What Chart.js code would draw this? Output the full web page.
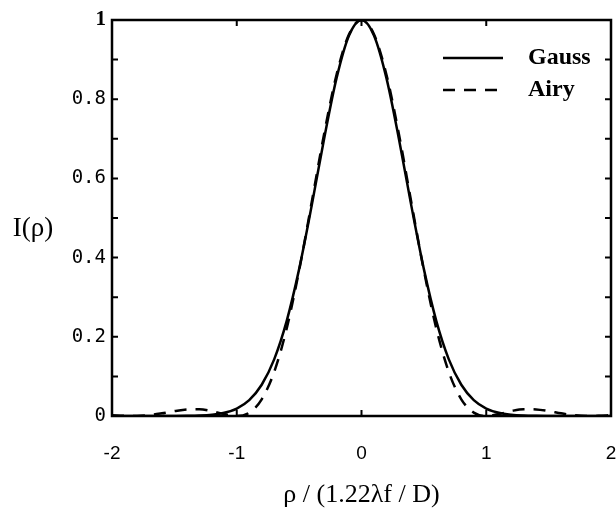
<!DOCTYPE html>
<html>
<head>
<meta charset="utf-8">
<script src="https://cdn.jsdelivr.net/npm/chart.js@4.4.1/dist/chart.umd.min.js"></script>
<style>
  html, body { margin: 0; padding: 0; background: #fff; }
  #wrap { width: 616px; height: 508px; position: relative; }
</style>
</head>
<body>
<div id="wrap"><canvas id="psfChart"></canvas></div>
<script>
// radial coordinate, in units of 1.22 lambda f / D
const rho = [-2.0, -1.9, -1.8, -1.7, -1.6, -1.5, -1.4, -1.3, -1.2, -1.1,
             -1.0, -0.9, -0.8, -0.7, -0.6, -0.5, -0.4, -0.3, -0.2, -0.1,
              0.0,
              0.1,  0.2,  0.3,  0.4,  0.5,  0.6,  0.7,  0.8,  0.9,  1.0,
              1.1,  1.2,  1.3,  1.4,  1.5,  1.6,  1.7,  1.8,  1.9,  2.0];

const gauss = [0, 0, 0, 0, 0, 0.0001, 0.0004, 0.0012, 0.0033, 0.0082,
               0.0189, 0.0402, 0.0789, 0.1431, 0.2397, 0.3709, 0.5300, 0.6997, 0.8532, 0.9611,
               1.0,
               0.9611, 0.8532, 0.6997, 0.5300, 0.3709, 0.2397, 0.1431, 0.0789, 0.0402, 0.0189,
               0.0082, 0.0033, 0.0012, 0.0004, 0.0001, 0, 0, 0, 0, 0];

const airy = [0.0020, 0.0004, 0.0001, 0.0021, 0.0067, 0.0123, 0.0166, 0.0171, 0.0125, 0.0048,
              0.0, 0.0085, 0.0421, 0.1111, 0.2207, 0.3675, 0.5384, 0.7118, 0.8619, 0.9638,
              1.0,
              0.9638, 0.8619, 0.7118, 0.5384, 0.3675, 0.2207, 0.1111, 0.0421, 0.0085, 0.0,
              0.0048, 0.0125, 0.0171, 0.0166, 0.0123, 0.0067, 0.0021, 0.0001, 0.0004, 0.0020];

const seriesNames = ['Gauss', 'Airy'];

const xTickValues = [-2, -1, 0, 1, 2];
const xTickLabels = ['-2', '-1', '0', '1', '2'];
const yTickValues = [0, 0.2, 0.4, 0.6, 0.8, 1];
const yTickLabels = ['0', '0.2', '0.4', '0.6', '0.8', '1'];

const xTitle = 'ρ / (1.22λf / D)';
const yTitle = 'I(ρ)';

function pick(values, labels, v) {
    for (let i = 0; i < values.length; i++) {
        if (Math.abs(values[i] - v) < 1e-6) return labels[i];
    }
    return '';
}

// box round the plot, with inward tick marks on all four sides
const framePlugin = {
    id: 'frame',
    afterDatasetsDraw(chart) {
        const { ctx, chartArea: a, scales } = chart;
        ctx.save();
        ctx.strokeStyle = '#000';
        ctx.lineWidth = 2.5;
        ctx.strokeRect(a.left, a.top, a.right - a.left, a.bottom - a.top);
        ctx.lineWidth = 2;
        const len = 6;
        scales.y.ticks.forEach(t => {
            const py = scales.y.getPixelForValue(t.value);
            ctx.beginPath();
            ctx.moveTo(a.left, py); ctx.lineTo(a.left + len, py);
            ctx.moveTo(a.right, py); ctx.lineTo(a.right - len, py);
            ctx.stroke();
        });
        scales.x.ticks.forEach(t => {
            const px = scales.x.getPixelForValue(t.value);
            ctx.beginPath();
            ctx.moveTo(px, a.bottom); ctx.lineTo(px, a.bottom - len);
            ctx.moveTo(px, a.top); ctx.lineTo(px, a.top + len);
            ctx.stroke();
        });

        // y title, written level
        ctx.fillStyle = '#000';
        ctx.font = '27px "Liberation Serif"';
        ctx.textAlign = 'center';
        ctx.textBaseline = 'middle';
        ctx.fillText(yTitle, 33, 229);

        // legend inside the top right corner
        ctx.font = 'bold 24px "Liberation Serif"';
        ctx.textAlign = 'left';
        chart.data.datasets.forEach((ds, i) => {
            const y = a.top + 38 + i * 32;
            const x0 = a.right - 168;
            ctx.beginPath();
            ctx.lineWidth = ds.borderWidth;
            ctx.setLineDash(ds.borderDash || []);
            ctx.moveTo(x0, y); ctx.lineTo(x0 + 60, y);
            ctx.stroke();
            ctx.setLineDash([]);
            ctx.fillText(ds.label, x0 + 85, y);
        });
        ctx.restore();
    }
};

const ctx = document.getElementById('psfChart').getContext('2d');
new Chart(ctx, {
    type: 'line',
    data: {
        datasets: [{
            label: seriesNames[0],
            data: rho.map((x, i) => ({ x: x, y: gauss[i] })),
            borderColor: '#000',
            borderWidth: 2.5,
            pointRadius: 0,
            cubicInterpolationMode: 'monotone',
            fill: false
        }, {
            label: seriesNames[1],
            data: rho.map((x, i) => ({ x: x, y: airy[i] })),
            borderColor: '#000',
            borderWidth: 2.5,
            borderDash: [12, 9],
            pointRadius: 0,
            cubicInterpolationMode: 'monotone',
            fill: false
        }]
    },
    options: {
        responsive: true,
        maintainAspectRatio: false,
        animation: false,
        layout: { padding: { left: 0, right: 5, top: 20, bottom: 0 } },
        plugins: {
            legend: { display: false },
            tooltip: { enabled: false }
        },
        scales: {
            x: {
                type: 'linear',
                min: -2,
                max: 2,
                grid: { display: false, drawTicks: false },
                border: { display: false },
                ticks: {
                    stepSize: 1,
                    autoSkip: false,
                    maxRotation: 0,
                    padding: 26,
                    color: '#000',
                    font: { family: '"Liberation Sans"', size: 19 },
                    callback: v => pick(xTickValues, xTickLabels, v)
                },
                title: {
                    display: true,
                    text: xTitle,
                    color: '#000',
                    font: { family: '"Liberation Serif"', size: 26, lineHeight: 1.0 },
                    padding: { top: 0, bottom: 0 }
                },
                afterFit: s => { s.height = 92; s.paddingLeft = 0; s.paddingRight = 0; }
            },
            y: {
                min: 0,
                max: 1,
                grid: { display: false, drawTicks: false },
                border: { display: false },
                ticks: {
                    stepSize: 0.1,
                    autoSkip: false,
                    padding: 6,
                    color: '#000',
                    font: c => (c.tick && c.tick.value === 1)
                        ? { family: '"Liberation Serif"', size: 21, weight: 'bold' }
                        : { family: '"DejaVu Sans Mono"', size: 19 },
                    callback: v => pick(yTickValues, yTickLabels, v)
                },
                afterFit: s => { s.width = 112; s.paddingTop = 0; s.paddingBottom = 0; }
            }
        }
    },
    plugins: [framePlugin]
});
</script>
</body>
</html>
